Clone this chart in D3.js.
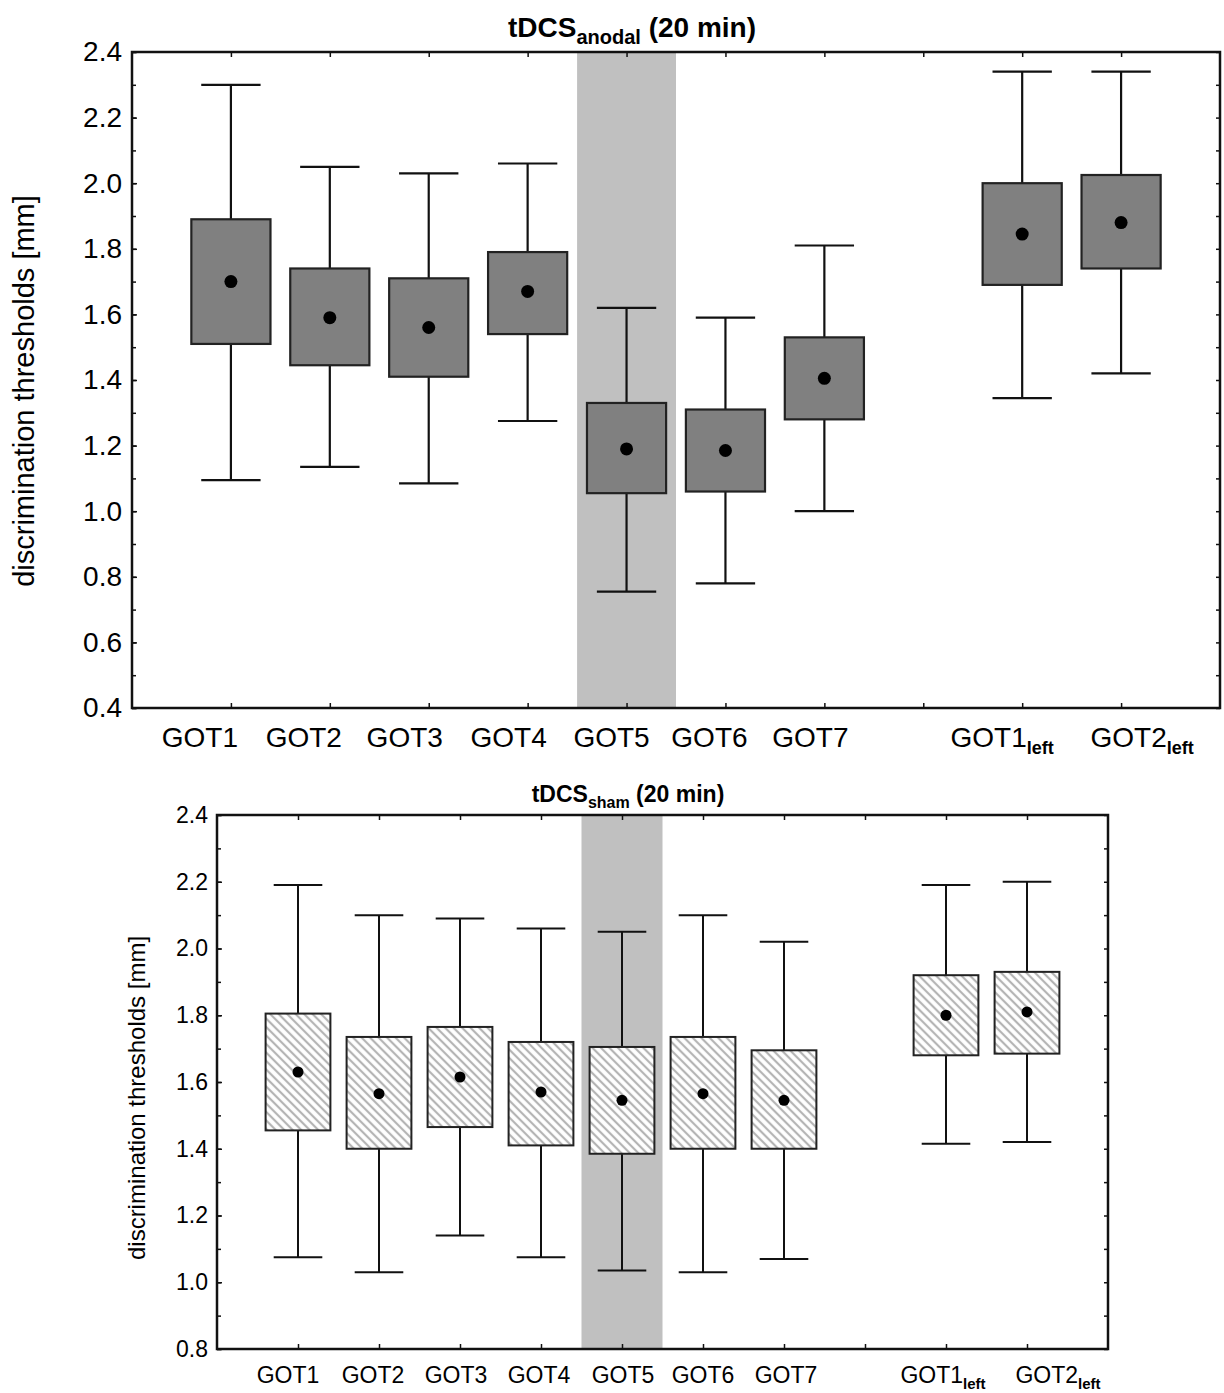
<!DOCTYPE html>
<html>
<head>
<meta charset="utf-8">
<script src="https://cdn.jsdelivr.net/npm/d3@7"></script>
<style>
  body { margin: 0; background: #fff; }
  svg { display: block; font-family: Arial, 'Liberation Sans', sans-serif; }
</style>
</head>
<body>
<svg id="chart"></svg>
<script>
// categories (GOT1left / GOT2left are drawn with a subscript)
const labelBase = ['GOT1', 'GOT2', 'GOT3', 'GOT4', 'GOT5', 'GOT6', 'GOT7', 'GOT1', 'GOT2'];
const labelSub = ['', '', '', '', '', '', '', 'left', 'left'];
const slots = [1, 2, 3, 4, 5, 6, 7, 9, 10];
const tickSlots = [1, 2, 3, 4, 5, 6, 7, 8, 9, 10];
const highlightSlot = 5;

// tDCS anodal
const anodalWhiskerHigh = [2.30, 2.05, 2.03, 2.06, 1.62, 1.59, 1.81, 2.34, 2.34];
const anodalBoxHigh = [1.89, 1.74, 1.71, 1.79, 1.33, 1.31, 1.53, 2.00, 2.025];
const anodalMean = [1.70, 1.59, 1.56, 1.67, 1.19, 1.185, 1.405, 1.845, 1.88];
const anodalBoxLow = [1.51, 1.445, 1.41, 1.54, 1.055, 1.06, 1.28, 1.69, 1.74];
const anodalWhiskerLow = [1.095, 1.135, 1.085, 1.275, 0.755, 0.78, 1.00, 1.345, 1.42];

// tDCS sham
const shamWhiskerHigh = [2.19, 2.10, 2.09, 2.06, 2.05, 2.10, 2.02, 2.19, 2.20];
const shamBoxHigh = [1.805, 1.735, 1.765, 1.72, 1.705, 1.735, 1.695, 1.92, 1.93];
const shamMean = [1.63, 1.565, 1.615, 1.57, 1.545, 1.565, 1.545, 1.80, 1.81];
const shamBoxLow = [1.455, 1.40, 1.465, 1.41, 1.385, 1.40, 1.40, 1.68, 1.685];
const shamWhiskerLow = [1.075, 1.03, 1.14, 1.075, 1.035, 1.03, 1.07, 1.415, 1.42];

const anodalTicks = [0.4, 0.6, 0.8, 1.0, 1.2, 1.4, 1.6, 1.8, 2.0, 2.2, 2.4];
const shamTicks = [0.8, 1.0, 1.2, 1.4, 1.6, 1.8, 2.0, 2.2, 2.4];

const width = 1224;
const height = 1393;

const svg = d3.select('#chart').attr('width', width).attr('height', height);

const defs = svg.append('defs');
const hatch = defs
  .append('pattern')
  .attr('id', 'hatch')
  .attr('patternUnits', 'userSpaceOnUse')
  .attr('width', 6)
  .attr('height', 6)
  .attr('patternTransform', 'rotate(-45)');
hatch.append('rect').attr('width', 6).attr('height', 6).attr('fill', '#fff');
hatch
  .append('line')
  .attr('x1', 2)
  .attr('y1', 0)
  .attr('x2', 2)
  .attr('y2', 6)
  .attr('stroke', '#b4b4b4')
  .attr('stroke-width', 2.2);

const rows = (hi, bh, m, bl, lo) =>
  slots.map((s, i) => ({
    slot: s,
    whiskerHigh: hi[i],
    boxHigh: bh[i],
    mean: m[i],
    boxLow: bl[i],
    whiskerLow: lo[i],
  }));

const drawPanel = (cfg) => {
  const g = svg.append('g');

  const x = d3.scaleLinear().domain([0, 11]).range([cfg.left, cfg.right]);
  const y = d3.scaleLinear().domain(cfg.yDomain).range([cfg.bottom, cfg.top]);
  const step = x(1) - x(0);

  // highlighted column
  g.append('rect')
    .attr('x', x(highlightSlot - 0.5))
    .attr('y', cfg.top)
    .attr('width', step)
    .attr('height', cfg.bottom - cfg.top)
    .attr('fill', '#c0c0c0');

  const box = g
    .selectAll('g.box')
    .data(cfg.data)
    .enter()
    .append('g')
    .attr('class', 'box');

  box.append('line')
    .attr('x1', (d) => x(d.slot))
    .attr('x2', (d) => x(d.slot))
    .attr('y1', (d) => y(d.whiskerHigh))
    .attr('y2', (d) => y(d.whiskerLow))
    .attr('stroke', '#111')
    .attr('stroke-width', cfg.lineW);

  ['whiskerHigh', 'whiskerLow'].forEach((k) => {
    box.append('line')
      .attr('x1', (d) => x(d.slot - 0.3))
      .attr('x2', (d) => x(d.slot + 0.3))
      .attr('y1', (d) => y(d[k]))
      .attr('y2', (d) => y(d[k]))
      .attr('stroke', '#111')
      .attr('stroke-width', cfg.lineW);
  });

  box.append('rect')
    .attr('x', (d) => x(d.slot - 0.4))
    .attr('width', step * 0.8)
    .attr('y', (d) => y(d.boxHigh))
    .attr('height', (d) => y(d.boxLow) - y(d.boxHigh))
    .attr('fill', cfg.boxFill)
    .attr('stroke', '#222')
    .attr('stroke-width', cfg.lineW);

  box.append('circle')
    .attr('cx', (d) => x(d.slot))
    .attr('cy', (d) => y(d.mean))
    .attr('r', cfg.dot)
    .attr('fill', '#000');

  // axes, ticks pointing inward
  const minor = d3.range(cfg.yDomain[0], cfg.yDomain[1] + 0.001, 0.1);
  g.append('g')
    .attr('transform', 'translate(' + cfg.left + ',0)')
    .call(d3.axisLeft(y).tickValues(minor).tickSize(-4).tickFormat(''));
  g.append('g')
    .attr('transform', 'translate(' + cfg.right + ',0)')
    .call(d3.axisRight(y).tickValues(minor).tickSize(-4).tickFormat(''));
  const yAxis = g
    .append('g')
    .attr('transform', 'translate(' + cfg.left + ',0)')
    .call(
      d3
        .axisLeft(y)
        .tickValues(cfg.ticks)
        .tickSize(-5)
        .tickPadding(cfg.tickPad)
        .tickFormat(d3.format('.1f'))
    );
  yAxis.selectAll('text')
    .style('font-size', cfg.font + 'px')
    .attr('fill', '#000');

  g.append('g')
    .attr('transform', 'translate(0,' + cfg.top + ')')
    .call(d3.axisTop(x).tickValues(tickSlots).tickSize(-5).tickFormat(''));
  g.append('g')
    .attr('transform', 'translate(0,' + cfg.bottom + ')')
    .call(d3.axisBottom(x).tickValues(tickSlots).tickSize(-5).tickFormat(''));

  g.selectAll('.domain').remove();
  g.selectAll('.tick line').attr('stroke', '#111').attr('stroke-width', 1.5);

  // frame
  g.append('rect')
    .attr('x', cfg.left)
    .attr('y', cfg.top)
    .attr('width', cfg.right - cfg.left)
    .attr('height', cfg.bottom - cfg.top)
    .attr('fill', 'none')
    .attr('stroke', '#111')
    .attr('stroke-width', 2.5);

  // category labels (hand-placed in the original figure, hence the nudge)
  const lab = g
    .selectAll('text.cat')
    .data(slots)
    .enter()
    .append('text')
    .attr('class', 'cat')
    .attr('x', (s, i) => x(s) + cfg.labelNudge[i])
    .attr('y', cfg.labelY)
    .attr('text-anchor', 'middle')
    .style('font-size', cfg.font + 'px');
  lab.append('tspan').text((s, i) => labelBase[i]);
  lab.append('tspan')
    .attr('dy', cfg.subDy)
    .style('font-size', cfg.subFont + 'px')
    .style('font-weight', 'bold')
    .text((s, i) => labelSub[i]);

  // title
  const title = g
    .append('text')
    .attr('x', cfg.titleX)
    .attr('y', cfg.titleY)
    .attr('text-anchor', 'middle')
    .style('font-weight', 'bold')
    .style('font-size', cfg.titleFont + 'px');
  title.append('tspan').text('tDCS');
  title.append('tspan')
    .attr('dy', cfg.titleSubDy)
    .style('font-size', cfg.titleSubFont + 'px')
    .text(cfg.titleSub);
  title.append('tspan').attr('dy', -cfg.titleSubDy).text(' (20 min)');

  g.append('text')
    .attr('transform', 'translate(' + cfg.yLabelX + ',' + cfg.yLabelY + ') rotate(-90)')
    .attr('text-anchor', 'middle')
    .style('font-size', cfg.yLabelFont + 'px')
    .text('discrimination thresholds [mm]');
};

drawPanel({
  left: 132,
  right: 1220,
  top: 52,
  bottom: 708,
  yDomain: [0.4, 2.4],
  ticks: anodalTicks,
  data: rows(anodalWhiskerHigh, anodalBoxHigh, anodalMean, anodalBoxLow, anodalWhiskerLow),
  boxFill: '#808080',
  dot: 6.5,
  lineW: 2.2,
  font: 28,
  tickPad: 10,
  labelY: 747,
  labelNudge: [-31, -26, -24, -19, -15, -16, -14, -20, 21],
  subFont: 18,
  subDy: 7,
  titleX: 632,
  titleY: 37,
  titleFont: 28,
  titleSub: 'anodal',
  titleSubFont: 20,
  titleSubDy: 7,
  yLabelX: 34,
  yLabelY: 391,
  yLabelFont: 29,
});

drawPanel({
  left: 217,
  right: 1108,
  top: 815,
  bottom: 1349,
  yDomain: [0.8, 2.4],
  ticks: shamTicks,
  data: rows(shamWhiskerHigh, shamBoxHigh, shamMean, shamBoxLow, shamWhiskerLow),
  boxFill: 'url(#hatch)',
  dot: 5.5,
  lineW: 2,
  font: 23,
  tickPad: 9,
  labelY: 1383,
  labelNudge: [-10, -6, -4, -2, 1, 0, 2, -3, 31],
  subFont: 15,
  subDy: 6,
  titleX: 628,
  titleY: 802,
  titleFont: 23,
  titleSub: 'sham',
  titleSubFont: 16,
  titleSubDy: 6,
  yLabelX: 145,
  yLabelY: 1098,
  yLabelFont: 24,
});
</script>
</body>
</html>
